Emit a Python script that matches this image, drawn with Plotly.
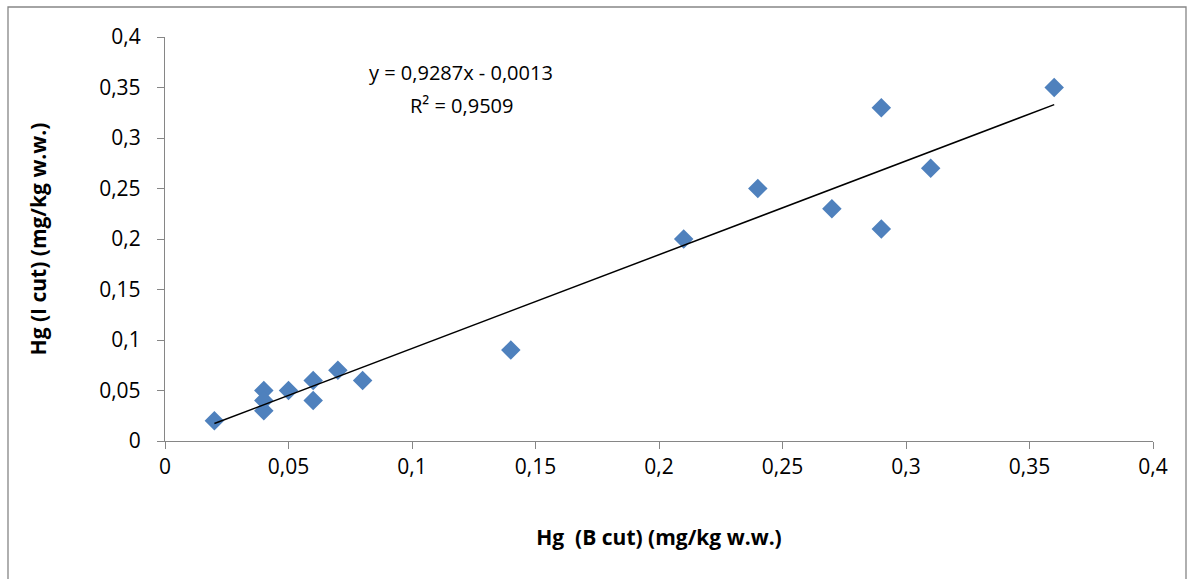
import plotly.graph_objects as go

x_b = [0.02, 0.04, 0.04, 0.04, 0.05, 0.06, 0.06, 0.07, 0.08, 0.14, 0.21, 0.24, 0.27, 0.29, 0.29, 0.31, 0.36]
y_i = [0.02, 0.05, 0.04, 0.03, 0.05, 0.06, 0.04, 0.07, 0.06, 0.09, 0.20, 0.25, 0.23, 0.33, 0.21, 0.27, 0.35]
slope = 0.9287
intercept = -0.0013
r2 = 0.9509
tick_vals = [0, 0.05, 0.1, 0.15, 0.2, 0.25, 0.3, 0.35, 0.4]

trend_x = [min(x_b), max(x_b)]
trend_y = [slope * v + intercept for v in trend_x]

font_family = "'Open Sans', Lato, sans-serif"
axis_col = "#868686"
L, R, T, B = 165, 41, 37, 138
W, H = 1194, 579
pw, ph = W - L - R, H - T - B


def px(xp):
    return (xp - L) / pw


def py(yp):
    return (H - B - yp) / ph


def comma(v):
    return str(v).replace('.', ',')


fig = go.Figure()
fig.add_trace(go.Scatter(x=x_b, y=y_i, mode="markers",
                         marker=dict(symbol="diamond", size=15, color="#4F81BD",
                                     line=dict(width=0)),
                         showlegend=False, cliponaxis=False))
fig.add_trace(go.Scatter(x=trend_x, y=trend_y, mode="lines",
                         line=dict(color="black", width=1.5), showlegend=False))

axis_common = dict(range=[0, 0.4], tickvals=tick_vals, showgrid=False, zeroline=False,
                   showline=True, linecolor=axis_col, linewidth=1.3,
                   ticks="outside", tickcolor=axis_col, ticklen=7, tickwidth=1.3,
                   tickfont=dict(family=font_family, size=21, color="black"))

fig.update_xaxes(**axis_common,
                 title=dict(text="<b>Hg  (B cut) (mg/kg w.w.)</b>", standoff=50,
                            font=dict(family=font_family, size=21, color="black")))
fig.update_yaxes(**axis_common, ticklabelstandoff=12,
                 title=dict(text="<b>Hg (I cut) (mg/kg w.w.)</b>", standoff=46,
                            font=dict(family=font_family, size=21, color="black")))

fig.add_annotation(xref="paper", yref="paper", x=px(461), y=py(73),
                   xanchor="center", yanchor="middle",
                   text=f"y = {comma(slope)}x - {comma(-intercept)}",
                   showarrow=False, font=dict(family=font_family, size=20, color="black"))
fig.add_annotation(xref="paper", yref="paper", x=px(461), y=py(105),
                   xanchor="center", yanchor="middle",
                   text=f"R² = {comma(r2)}",
                   showarrow=False, font=dict(family=font_family, size=20, color="black"))

fig.add_shape(type="rect", xref="paper", yref="paper",
              x0=px(8), x1=px(1186), y0=py(600), y1=py(7),
              line=dict(color="#868686", width=1.3), fillcolor="rgba(0,0,0,0)", layer="below")

fig.update_layout(width=W, height=H, separators=", ",
                  margin=dict(l=L, r=R, t=T, b=B),
                  plot_bgcolor="white", paper_bgcolor="white",
                  font=dict(family=font_family, size=21, color="black"))

fig.write_html("out.html")
